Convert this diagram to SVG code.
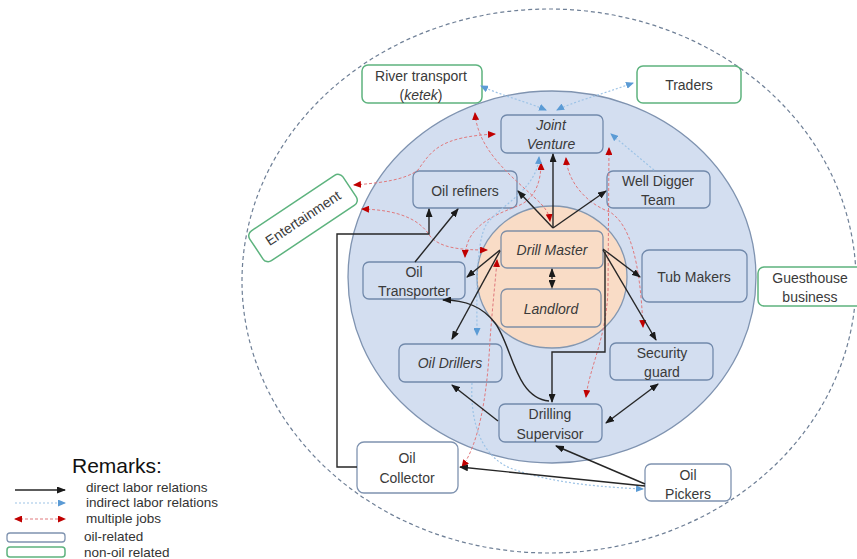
<svg xmlns="http://www.w3.org/2000/svg" width="857" height="559" viewBox="0 0 857 559">
<defs>
<style>
text{font-family:"Liberation Sans",Arial,sans-serif;font-size:14px;fill:#3a3a3a;text-anchor:middle}
.it{font-style:italic}
.oil{fill:#D3DEF0;stroke:#7189AB;stroke-width:1.3}
.core{fill:#F9DCC6;stroke:#7F8FA6;stroke-width:1.3}
.out{fill:#fff;stroke:#7F93B0;stroke-width:1.3}
.non{fill:#fff;stroke:#5DB37E;stroke-width:1.5}
.k{fill:none;stroke:#262626;stroke-width:1.4;marker-end:url(#ak)}
.b{fill:none;stroke:#9DC3E6;stroke-width:1.2;stroke-dasharray:2 2;marker-end:url(#ab)}
.r{fill:none;stroke:#E0797D;stroke-width:1;stroke-dasharray:3 2;marker-end:url(#ar);marker-start:url(#ar)}
.leg{text-anchor:start;font-size:13.5px;fill:#333}
</style>
<marker id="ak" markerWidth="9" markerHeight="7" refX="8" refY="3.5" orient="auto-start-reverse" markerUnits="userSpaceOnUse"><path d="M0,0 L9,3.5 L0,7 z" fill="#1a1a1a"/></marker>
<marker id="ab" markerWidth="8" markerHeight="7" refX="7" refY="3.5" orient="auto-start-reverse" markerUnits="userSpaceOnUse"><path d="M0,0 L8,3.5 L0,7 z" fill="#5B9BD5"/></marker>
<marker id="ar" markerWidth="8" markerHeight="7" refX="7" refY="3.5" orient="auto-start-reverse" markerUnits="userSpaceOnUse"><path d="M0,0 L8,3.5 L0,7 z" fill="#C00000"/></marker>
</defs>
<rect width="857" height="559" fill="#fff"/>
<g id="regions">
<ellipse cx="549" cy="281" rx="307" ry="272" fill="none" stroke="#6E7F96" stroke-width="1.2" stroke-dasharray="4 3"/>
<ellipse cx="552" cy="277" rx="204" ry="186" fill="#D3DEF0" stroke="#7F93B0" stroke-width="1.3"/>
<ellipse cx="552" cy="277" rx="75" ry="71" fill="#F9DCC6" stroke="#8497B0" stroke-width="1.3"/>
</g>
<g id="node-river"><rect class="non" x="362" y="65" width="120" height="38" rx="6"/><text x="421" y="81">River transport</text><text x="421" y="100">(<tspan class="it">ketek</tspan>)</text></g>
<g id="node-traders"><rect class="non" x="637" y="66" width="104" height="37" rx="6"/><text x="689" y="90">Traders</text></g>
<g id="node-jv"><rect class="oil" x="501" y="115" width="102" height="38" rx="6"/><text class="it" x="551" y="130">Joint</text><text class="it" x="551" y="149">Venture</text></g>
<g id="node-refiners"><rect class="oil" x="413" y="171" width="104" height="37" rx="6"/><text x="465" y="196">Oil refiners</text></g>
<g id="node-welldigger"><rect class="oil" x="607" y="171" width="103" height="37" rx="6"/><text x="658" y="186">Well Digger</text><text x="658" y="205">Team</text></g>
<g id="node-entertainment" transform="rotate(-33.7 303 218)"><rect class="non" x="247" y="200" width="112" height="36" rx="6"/><text x="303" y="223">Entertainment</text></g>
<g id="node-drillmaster"><rect class="core" x="501" y="231" width="102" height="37" rx="6"/><text class="it" x="552" y="255">Drill Master</text></g>
<g id="node-landlord"><rect class="core" x="501" y="289" width="100" height="38" rx="6"/><text class="it" x="551" y="314">Landlord</text></g>
<g id="node-tubmakers"><rect class="oil" x="642" y="250" width="105" height="52" rx="7"/><text x="694" y="282">Tub Makers</text></g>
<g id="node-guesthouse"><rect class="non" x="758" y="267" width="104" height="39" rx="6"/><text x="810" y="283">Guesthouse</text><text x="810" y="302">business</text></g>
<g id="node-transporter"><rect class="oil" x="363" y="262" width="102" height="37" rx="6"/><text x="414" y="277">Oil</text><text x="414" y="296">Transporter</text></g>
<g id="node-drillers"><rect class="oil" x="399" y="344" width="103" height="38" rx="6"/><text class="it" x="450" y="368">Oil Drillers</text></g>
<g id="node-security"><rect class="oil" x="610" y="343" width="103" height="37" rx="6"/><text x="662" y="358">Security</text><text x="662" y="377">guard</text></g>
<g id="node-supervisor"><rect class="oil" x="499" y="404" width="103" height="38" rx="6"/><text x="550" y="419">Drilling</text><text x="550" y="439">Supervisor</text></g>
<g id="node-collector"><rect class="out" x="357" y="442" width="101" height="51" rx="7"/><text x="407" y="463">Oil</text><text x="407" y="483">Collector</text></g>
<g id="node-pickers"><rect class="out" x="645" y="464" width="86" height="37" rx="6"/><text x="688" y="480">Oil</text><text x="688" y="499">Pickers</text></g>
<g id="connectors">
<path class="r" d="M475,113 C478,150 510,175 535,198 C545,207 549,213 550,221"/>
<path class="r" d="M354,185 C380,183 405,180 418,170 C432,150 440,137 495,134"/>
<path class="r" d="M362,209 C400,210 420,220 430,236 C440,248 460,250 487,250"/>
<path class="r" d="M465,257 C466,225 495,215 520,205 C535,198 541,182 541,163"/>
<path class="r" d="M566,158 C568,185 590,205 610,212 C630,225 640,260 643,327"/>
<path class="r" d="M609,148 L608,290 C606,340 590,365 586,397"/>
<path class="r" d="M462,467 C478,445 487,400 490,340 C493,300 496,275 497,260"/>
<path class="b" style="marker-start:url(#ab)" d="M481,86 C500,95 530,103 546,110"/>
<path class="b" style="marker-start:url(#ab)" d="M633,83 C600,95 570,103 557,110"/>
<path class="b" d="M654,170 L611,134"/>
<path class="b" style="marker-start:url(#ab)" d="M539,157 C537,190 500,205 486,225 C475,245 477,300 477,335"/>
<path class="b" d="M472,383 C470,420 480,455 510,468 C550,483 600,487 643,489"/>
<path class="k" d="M553,228 L553,154"/>
<path class="k" d="M553,228 L518,191"/>
<path class="k" d="M553,228 L606,191"/>
<path class="k" d="M500,250 L467,277"/>
<path class="k" d="M500,251 L452,339"/>
<path class="k" d="M603,249 L640,277"/>
<path class="k" d="M603,250 L656,340"/>
<path class="k" style="marker-start:url(#ak);stroke-dasharray:2 2" d="M552,269 L552,288"/>
<path class="k" d="M605,252 L605,352 L552,352 L552,402"/>
<path class="k" d="M549,401 C515,398 512,345 495,323 C482,306 465,300 443,300"/>
<path class="k" d="M498,421 L452,385"/>
<path class="k" style="marker-start:url(#ak)" d="M658,384 L606,423"/>
<path class="k" d="M645,484 L556,446"/>
<path class="k" d="M645,486 L460,467"/>
<path class="k" d="M357,467 L337,467 L337,234 L429,234 L429,209"/>
<path class="k" d="M415,262 L458,209"/>
</g>
<g id="legend">
<text x="72" y="473" style="text-anchor:start;font-size:21px;fill:#111">Remarks:</text>
<path class="k" d="M15,490 L65,490"/>
<path class="b" d="M15,503 L65,503"/>
<path class="r" d="M15,519 L65,519"/>
<rect x="7" y="533" width="58" height="9" rx="3" class="out"/>
<rect x="7" y="547" width="58" height="10" rx="3" class="non"/>
<text class="leg" x="86" y="492">direct labor relations</text>
<text class="leg" x="86" y="507">indirect labor relations</text>
<text class="leg" x="86" y="523">multiple jobs</text>
<text class="leg" x="84" y="541">oil-related</text>
<text class="leg" x="84" y="557">non-oil related</text>
</g>
</svg>
